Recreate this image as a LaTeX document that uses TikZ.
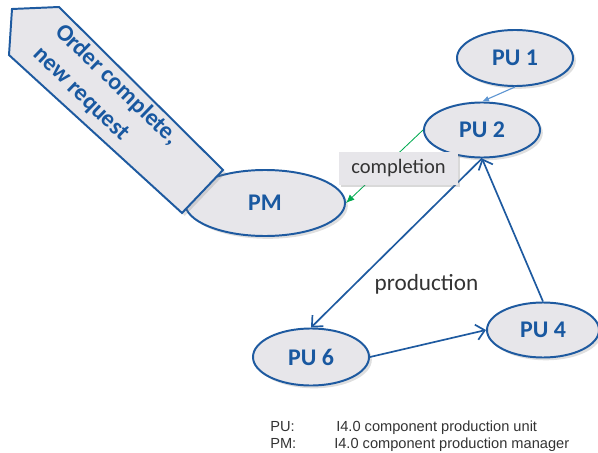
\documentclass[tikz,border=0pt]{standalone}
\usepackage{fontspec}
\setmainfont{Carlito}
\newfontfamily\legendfont{Liberation Sans}
\usetikzlibrary{shapes.geometric,arrows.meta,shadows}
\definecolor{puBlue}{RGB}{30,90,160}
\definecolor{puText}{RGB}{25,88,160}
\definecolor{puFill}{RGB}{231,230,234}
\definecolor{doneGreen}{RGB}{0,170,80}
\definecolor{feedBlue}{RGB}{95,150,210}
\definecolor{labelGray}{RGB}{51,51,51}
\tikzset{
  unit/.style={ellipse, draw=puBlue, line width=1.4pt, fill=puFill, inner sep=0pt,
    minimum width=2.9cm, minimum height=1.4cm, text=puText,
    font=\fontsize{17}{20}\selectfont\bfseries,
    drop shadow={opacity=0.25, shadow xshift=2pt, shadow yshift=-2pt}},
  flow/.style={draw=puBlue, line width=1.2pt, -{Straight Barb[length=6pt,width=11pt]}},
  legend/.style={anchor=base west, inner sep=0pt, text=labelGray,
    font=\legendfont\fontsize{10.4}{12}\selectfont},
}
\begin{document}
\begin{tikzpicture}[x=0.025cm, y=-0.025cm]
  \useasboundingbox (0,0) rectangle (598,453);

  % Менеджер и большая стрелка
  \node[unit, minimum width=4cm, minimum height=1.65cm] (pm) at (265,203) {PM};
  \draw[draw=puBlue, line width=1.4pt, fill=puFill,
        drop shadow={opacity=0.25, shadow xshift=2pt, shadow yshift=-2pt}]
    (12,9) -- (59,7) -- (223,170) -- (182,213) -- (9,55) -- cycle;
  \node[rotate=-44, align=left, text=puText, inner sep=0pt,
        font=\fontsize{17}{22.5}\selectfont\bfseries] (order) at (106,96)
    {Order complete,\\new request};

  % Производственные единицы
  \node[unit] (pu1) at (515,58) {PU 1};
  \node[unit, minimum height=1.375cm] (pu2) at (482,130) {PU 2};
  \node[unit, minimum width=2.8cm, minimum height=1.375cm] (pu4) at (543,330) {PU 4};
  \node[unit, minimum height=1.425cm] (pu6) at (311,357) {PU 6};

  % Связи
  \draw[feedBlue, line width=0.8pt, -{Latex[length=5pt,width=4pt]}] (pu1.south) -- (pu2.north);
  \draw[doneGreen, line width=0.6pt, -{Latex[length=6pt,width=5pt]}] (pu2.west) -- (pm.east);
  \draw[flow] (pu2.south) -- (pu6.north);
  \draw[flow] (pu6.east) -- (pu4.west);
  \draw[flow] (pu4.north) -- (pu2.south);

  % Подписи
  \node[fill=puFill, text=labelGray, minimum width=2.975cm, minimum height=0.825cm,
        inner sep=0pt, font=\fontsize{14.6}{17}\selectfont,
        drop shadow={opacity=0.3, shadow xshift=1.5pt, shadow yshift=-1.5pt}]
    (done) at (398.5,168.5) {completion};
  \node[anchor=base, inner sep=0pt, text=labelGray, font=\fontsize{16.5}{19}\selectfont]
    (prod) at (426.5,290) {production};

  % Легенда
  \node[legend] (puk) at (270,431) {PU:};
  \node[legend] (pud) at (336,431) {I4.0 component production unit};
  \node[legend] (pmk) at (270,448) {PM:};
  \node[legend] (pmd) at (334,448) {I4.0 component production manager};
\end{tikzpicture}
\end{document}
